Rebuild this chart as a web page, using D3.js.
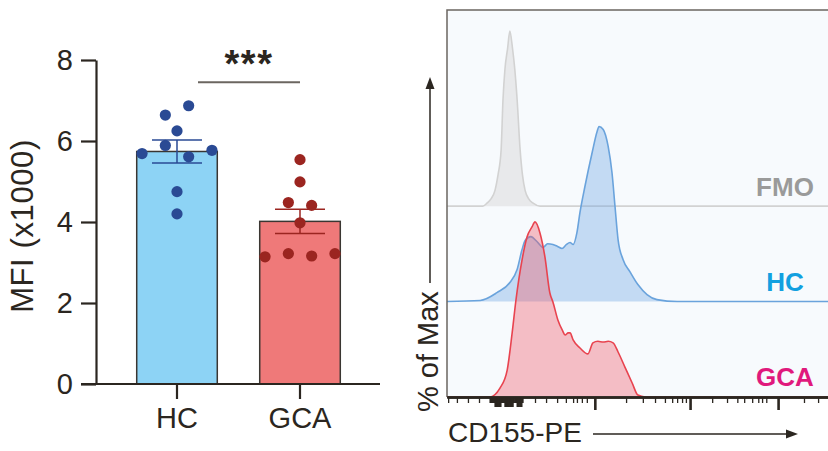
<!DOCTYPE html>
<html>
<head>
<meta charset="utf-8">
<script src="https://cdn.jsdelivr.net/npm/d3@7"></script>
<style>
body { margin: 0; background: #fff; }
svg { display: block; font-family: "Liberation Sans", Arial, sans-serif; }
</style>
</head>
<body>
<svg id="svg1" width="828" height="451"></svg>
<script>
// ---- bar chart data (MFI x1000) ----
var groups = ['HC', 'GCA'];
var hcValues = [6.64, 6.87, 6.25, 5.69, 5.89, 5.61, 5.77, 4.75, 4.20];
var gcaValues = [5.54, 4.99, 4.48, 4.41, 3.98, 3.14, 3.22, 3.16, 3.22];
var yTicks = [0, 2, 4, 6, 8];
var signifText = '***';

// ---- histogram data: [channel, % of max] ----
var fmoCurve = [[0,0],[94,0],[105,1.7],[115,4],[126,9],[134,18],[142,32],[147,61],[152,78],[159,90],
  [165,100],[172,90],[178,78],[184,61],[192,32],[198,18],[205,9],[215,4],[226,1.7],[244,0],[1000,0]];
var hcCurve = [[0,0],[87,0.6],[131,5.1],[165,10.9],[184,18.3],[197,29.7],[205,34.9],[220,37.1],[236,34.3],
  [252,30.9],[264,33],[278,32.6],[290,31.5],[302,30.3],[313,32.5],[323,33.7],[331,32.6],[341,39.4],
  [349,50.9],[362,65.7],[381,85.1],[394,97.1],[399,100],[410,98.3],[423,88.6],[433,73.7],[441,54.3],
  [449,35.4],[462,24],[480,17.1],[501,9.7],[525,4],[551,1.1],[604,0],[1000,0]];
var gcaCurve = [[0,0],[112,0],[139,5.1],[158,15.4],[171,36.6],[181,55.4],[197,78.3],[210,91.4],[223,97.1],
  [231,100],[244,93.7],[257,80],[270,59.4],[278,54.3],[291,44],[303,38],[310,35.4],[318,36.6],[323,36.6],
  [331,32.6],[349,28],[370,24.6],[383,30.9],[396,31.8],[410,31.4],[423,31.8],[436,30.9],[449,25.7],
  [467,17.1],[486,8],[501,1.1],[520,0],[1000,0]];
var majorTicks = [388, 638, 869];
var minorTicks = [3, 26, 55, 84, 231, 260, 289, 312, 331, 341, 354, 367, 470, 514, 546, 572, 591, 604,
  617, 627, 696, 735, 762, 780, 801, 817, 827, 838, 937, 974];
var zeroTicks = [113, 116, 119, 122, 126, 129, 132, 135, 139, 142, 145, 148, 152, 155, 158, 161, 165,
  168, 171, 174, 178, 181, 184, 187, 191, 194, 197];
var zeroTicksLong = [126, 129, 132, 135, 139, 152, 155, 158, 161, 165, 168, 171, 184, 187, 191, 194];

var ink = '#2b2620';
var svg = d3.select('#svg1');

// ================= left: bar chart =================
var scaleX = d3.scaleBand().domain(groups).range([96, 381]).paddingInner(0.345).paddingOuter(0.331);
var scaleY = d3.scaleLinear().domain([0, 8]).range([384, 60]);

var data = [
  {name: 'HC', values: hcValues, fill: '#8dd3f5', dark: '#2a4a94'},
  {name: 'GCA', values: gcaValues, fill: '#ef7979', dark: '#9b2520'}
];
data.forEach(function(d){
  d.mean = d3.mean(d.values);
  d.sem = d3.deviation(d.values) / Math.sqrt(d.values.length);
});

// bars
svg.selectAll('.bar').data(data).enter().append('rect')
  .attr('class', 'bar')
  .attr('x', function(d){ return scaleX(d.name); })
  .attr('y', function(d){ return scaleY(d.mean); })
  .attr('width', scaleX.bandwidth())
  .attr('height', function(d){ return scaleY(0) - scaleY(d.mean); })
  .attr('fill', function(d){ return d.fill; })
  .attr('stroke', '#3a3632')
  .attr('stroke-width', 1.5);

// simple row layout for the dots (GraphPad style)
function swarm(values){
  var idx = values.map(function(v, i){ return i; })
    .sort(function(a, b){ return values[b] - values[a] || a - b; });
  var rows = [];
  idx.forEach(function(i){
    var row = rows[rows.length - 1];
    if (row && values[row[0]] - values[i] <= 0.3) row.push(i);
    else rows.push([i]);
  });
  var slot = [];
  rows.forEach(function(row){
    row.sort(function(a, b){ return a - b; });
    row.forEach(function(i, k){ slot[i] = k - (row.length - 1) / 2; });
  });
  return values.map(function(v, i){ return {value: v, slot: slot[i]}; });
}

var dotStep = 23.3;
data.forEach(function(d){
  var cx = scaleX(d.name) + scaleX.bandwidth() / 2;
  var g = svg.append('g');
  // error bar
  g.append('line')
    .attr('x1', cx).attr('x2', cx)
    .attr('y1', scaleY(d.mean + d.sem)).attr('y2', scaleY(d.mean - d.sem))
    .attr('stroke', d.dark).attr('stroke-width', 1.5);
  [d.mean + d.sem, d.mean - d.sem].forEach(function(v){
    g.append('line')
      .attr('x1', cx - 25).attr('x2', cx + 25)
      .attr('y1', scaleY(v)).attr('y2', scaleY(v))
      .attr('stroke', d.dark).attr('stroke-width', 1.5);
  });
  // dots
  g.selectAll('circle').data(swarm(d.values)).enter().append('circle')
    .attr('cx', function(p){ return cx + p.slot * dotStep; })
    .attr('cy', function(p){ return scaleY(p.value); })
    .attr('r', 5.6)
    .attr('fill', d.dark);
});

// axes
var yAxis = svg.append('g')
  .attr('transform', 'translate(96,0)')
  .call(d3.axisLeft(scaleY).tickValues(yTicks).tickSize(15).tickSizeOuter(0).tickPadding(8));

var xAxis = svg.append('g')
  .attr('transform', 'translate(0,384)')
  .call(d3.axisBottom(scaleX).tickSize(15).tickSizeOuter(0).tickPadding(8));
xAxis.select('.domain').attr('d', 'M81,0H380');

[yAxis, xAxis].forEach(function(ax){
  ax.selectAll('path, line').attr('stroke', ink).attr('stroke-width', 2.2);
  ax.selectAll('text').attr('fill', ink).attr('font-size', 29)
    .attr('font-family', '"Liberation Sans", Arial, sans-serif');
});

svg.append('text')
  .attr('transform', 'translate(33,226) rotate(-90)')
  .attr('text-anchor', 'middle')
  .attr('font-size', 31)
  .attr('letter-spacing', 0.6)
  .attr('fill', ink)
  .text('MFI (x1000)');

// significance
svg.append('line')
  .attr('x1', 198).attr('x2', 300)
  .attr('y1', scaleY(7.45)).attr('y2', scaleY(7.45))
  .attr('stroke', '#6b6660').attr('stroke-width', 2);
svg.append('text')
  .attr('x', 249).attr('y', 77)
  .attr('text-anchor', 'middle')
  .attr('font-size', 38)
  .attr('font-weight', 'bold')
  .attr('letter-spacing', 1.5)
  .attr('fill', ink)
  .text(signifText);

// ================= right: histogram overlay =================
var hx = d3.scaleLinear().domain([0, 1000]).range([447, 828]);
var hy = d3.scaleLinear().domain([0, 221]).range([397, 10]);
var stagger = 54.5;

svg.append('rect')
  .attr('x', hx(0)).attr('y', hy(221))
  .attr('width', hx(1000) - hx(0)).attr('height', hy(0) - hy(221))
  .attr('fill', '#f7fafd');

var hist = [
  {name: 'FMO', curve: fmoCurve, level: 2, fill: 'rgba(212,212,212,0.45)', line: '#d2d2d2', text: '#9a9a9a'},
  {name: 'HC', curve: hcCurve, level: 1, fill: 'rgba(110,165,225,0.38)', line: '#6aa3dc', text: '#12a0e0'},
  {name: 'GCA', curve: gcaCurve, level: 0, fill: 'rgba(238,90,105,0.38)', line: '#e8434f', text: '#e0197c'}
];

hist.forEach(function(h){
  var off = stagger * h.level;
  var area = d3.area()
    .x(function(p){ return hx(p[0]); })
    .y0(hy(off))
    .y1(function(p){ return hy(off + p[1]); })
    .curve(d3.curveMonotoneX);
  var line = d3.line()
    .x(function(p){ return hx(p[0]); })
    .y(function(p){ return hy(off + p[1]); })
    .curve(d3.curveMonotoneX);
  svg.append('path').attr('d', area(h.curve)).attr('fill', h.fill);
  svg.append('path').attr('d', line(h.curve)).attr('fill', 'none')
    .attr('stroke', h.line).attr('stroke-width', 1.6);
  svg.append('text')
    .attr('x', 785).attr('y', hy(off + 6))
    .attr('text-anchor', 'middle')
    .attr('font-size', 26).attr('font-weight', 'bold')
    .attr('fill', h.text)
    .text(h.name);
});

// panel border (left + top)
svg.append('path')
  .attr('d', 'M' + hx(0) + ',' + hy(0) + 'V' + hy(221) + 'H' + hx(1000))
  .attr('fill', 'none').attr('stroke', '#6b6660').attr('stroke-width', 1.5);

// x axis ticks (biexponential style)
function tickAxis(values, size, width){
  var ax = svg.append('g')
    .attr('transform', 'translate(0,' + hy(0) + ')')
    .call(d3.axisBottom(hx).tickValues(values).tickSize(size).tickSizeOuter(0).tickFormat(''));
  ax.selectAll('line').attr('stroke', ink).attr('stroke-width', width);
  ax.select('.domain').attr('stroke', ink).attr('stroke-width', 1.8);
  return ax;
}
tickAxis(minorTicks, 6, 1.3);
tickAxis(zeroTicks, 6, 2.2);
tickAxis(zeroTicksLong, 10, 2.2);
tickAxis(majorTicks, 13, 2.6);

// axis labels with arrows
svg.append('text')
  .attr('transform', 'translate(438,412) rotate(-90)')
  .attr('font-size', 29).attr('fill', ink)
  .text('% of Max');
svg.append('line')
  .attr('x1', 430).attr('x2', 430).attr('y1', 283).attr('y2', 86)
  .attr('stroke', ink).attr('stroke-width', 1.5);
svg.append('path')
  .attr('d', 'M430,77L425.5,89L434.5,89Z').attr('fill', ink);

svg.append('text')
  .attr('x', 448).attr('y', 442)
  .attr('font-size', 28).attr('fill', ink)
  .text('CD155-PE');
svg.append('line')
  .attr('x1', 593).attr('x2', 789).attr('y1', 434).attr('y2', 434)
  .attr('stroke', ink).attr('stroke-width', 1.5);
svg.append('path')
  .attr('d', 'M798,434L786,429.5L786,438.5Z').attr('fill', ink);
</script>
</body>
</html>
